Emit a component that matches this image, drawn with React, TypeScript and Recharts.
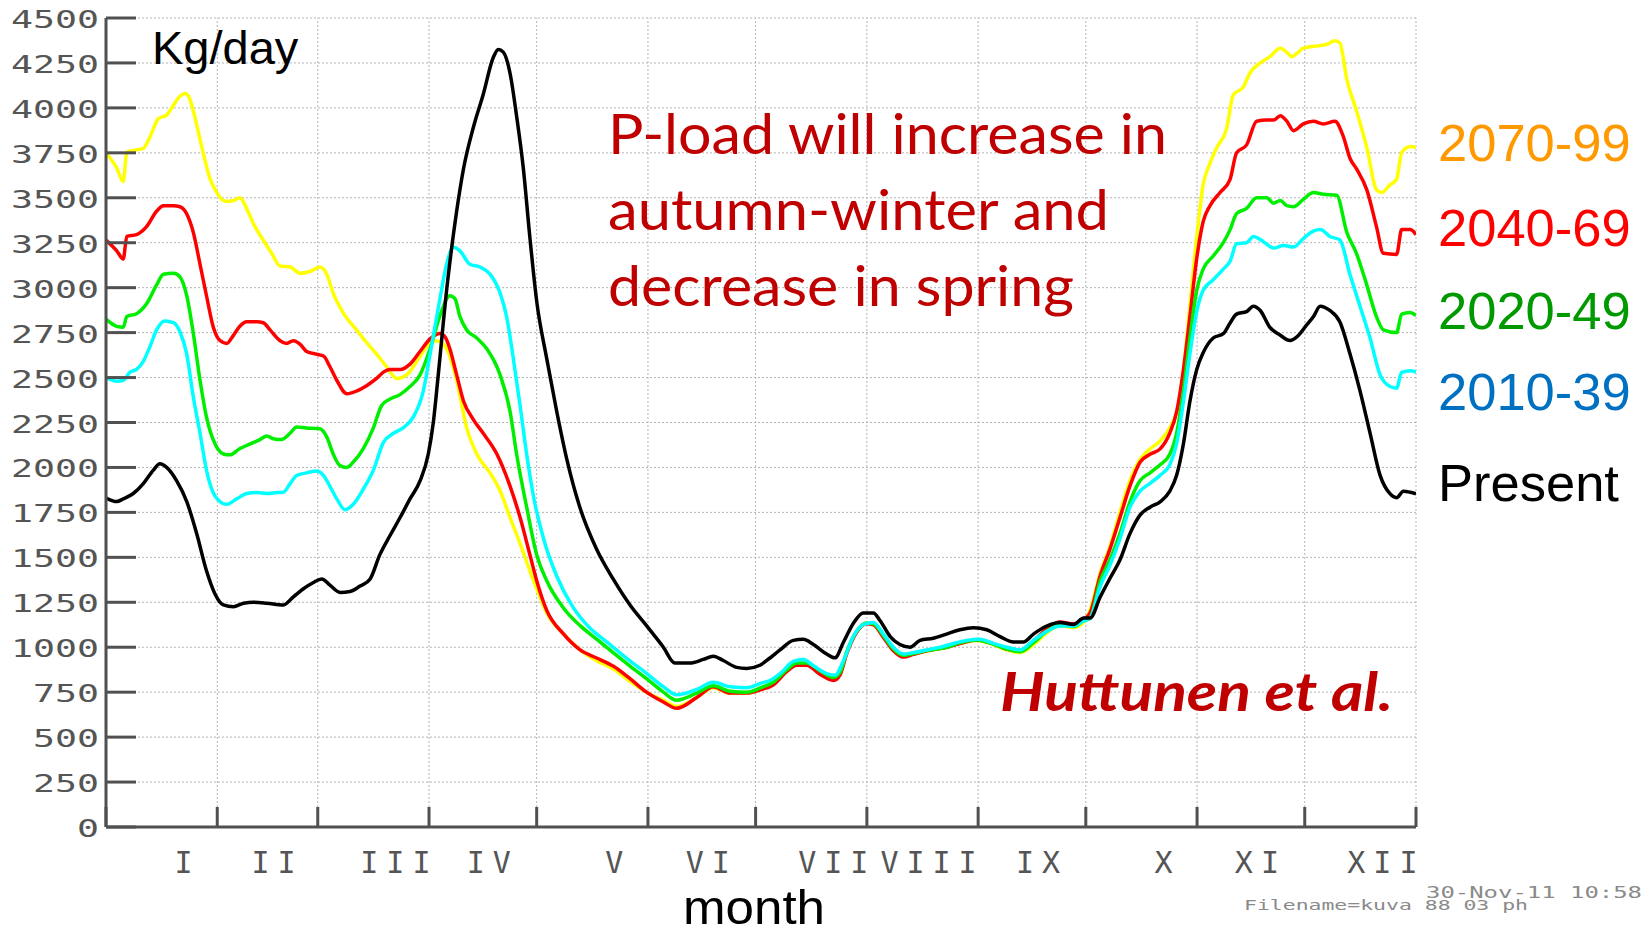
import React from 'react';
import { LineChart, Line, XAxis, YAxis, CartesianGrid, ReferenceLine } from 'recharts';

type Pt = [number, number];

// month boundaries (day of year) and Roman month labels
const monthStarts = [0, 31, 59, 90, 120, 151, 181, 212, 243, 273, 304, 334, 365];
const monthLabels = ['I', 'II', 'III', 'IV', 'V', 'VI', 'VII', 'VIII', 'IX', 'X', 'XI', 'XII'];
const yTicks = [0, 250, 500, 750, 1000, 1250, 1500, 1750, 2000, 2250, 2500, 2750, 3000, 3250, 3500, 3750, 4000, 4250, 4500];

// [day of year, P-load kg/day]
const load2070: Pt[] = [
  [0, 3750], [3, 3665], [4.8, 3590], [5.8, 3755], [8, 3765], [10.4, 3775], [12.3, 3840], [14.6, 3940], [16.9, 3960], [18.3, 4000],
  [20.6, 4065], [22, 4080], [23, 4065], [24.3, 3985], [26.2, 3825], [29, 3605], [30.4, 3545], [33.2, 3480], [35.5, 3485], [37.3, 3500],
  [39.2, 3440], [41.1, 3355], [43.8, 3265], [46.2, 3190], [48.5, 3120], [51.3, 3115], [54.1, 3080], [56.8, 3090], [59.6, 3115], [61.5, 3075],
  [63.3, 2970], [66.1, 2860], [69.8, 2765], [72.6, 2695], [75.4, 2630], [78.2, 2560], [81, 2495], [83.8, 2515], [86.6, 2590], [88.9, 2660],
  [91.2, 2705], [93.1, 2700], [94.9, 2660], [97.7, 2485], [100.5, 2220], [103.3, 2075], [107, 1970], [109.8, 1870], [112.6, 1720], [115.4, 1575],
  [118.1, 1425], [120, 1325], [122.8, 1190], [127.4, 1075], [132.1, 985], [136.7, 925], [141.3, 880], [146, 810], [150.6, 750], [155.3, 705],
  [159, 670], [164.6, 720], [169.2, 775], [173.9, 745], [178.5, 745], [182.5, 765], [185.9, 795], [189.7, 868], [192.4, 903], [195.2, 903],
  [198.9, 853], [202.7, 823], [204.5, 853], [206.4, 970], [209.2, 1088], [211.9, 1132], [213.8, 1126], [216.6, 1059], [219.4, 985], [222.1, 950],
  [224.9, 962], [228.7, 979], [234.2, 1000], [237.9, 1021], [242.6, 1038], [247.2, 1015], [250.9, 985], [254.7, 970], [258.4, 1015], [262.1, 1080],
  [265.8, 1120], [269.6, 1110], [272.4, 1140], [274.2, 1206], [277, 1412], [279.7, 1559], [282.5, 1750], [285.3, 1926], [288.1, 2044], [290.9, 2103],
  [293.7, 2147], [296.4, 2220], [298.3, 2309], [300.2, 2544], [302, 2897], [303.9, 3279], [305.7, 3573], [307.6, 3691], [309.5, 3779], [312.2, 3882],
  [314.1, 4073], [316.9, 4117], [318.8, 4197], [321.6, 4250], [324.3, 4285], [327.2, 4332], [329, 4309], [330.4, 4285], [331.8, 4303], [333.6, 4332],
  [337.3, 4344], [340.1, 4353], [342.4, 4373], [343.8, 4361], [345.7, 4162], [348.4, 3985], [351.3, 3779], [354, 3544], [355.4, 3529], [357.8, 3573],
  [359.6, 3603], [361, 3750], [363.4, 3785], [365, 3780],
];

const load2040: Pt[] = [
  [0, 3265], [3, 3205], [4.8, 3160], [5.8, 3285], [8.5, 3295], [11.3, 3340], [14.1, 3425], [16, 3455], [18.8, 3455], [20.6, 3450],
  [22.5, 3410], [24.3, 3310], [26.2, 3130], [28, 2955], [29.9, 2780], [31.8, 2705], [33.6, 2690], [35.5, 2735], [37.3, 2785], [39.2, 2810],
  [42, 2810], [43.8, 2805], [45.7, 2765], [48.5, 2705], [50.3, 2690], [52.2, 2705], [54.1, 2685], [55.9, 2645], [58.7, 2630], [60.6, 2620],
  [62.4, 2560], [64.3, 2485], [67.1, 2410], [69.8, 2425], [72.6, 2455], [75.4, 2495], [77.3, 2530], [79.1, 2545], [81.9, 2545], [84.7, 2575],
  [87.5, 2645], [90.3, 2715], [93.1, 2745], [94.5, 2725], [95.8, 2660], [97.7, 2515], [99.6, 2370], [102.4, 2265], [105.1, 2190], [108.9, 2075],
  [112.6, 1895], [115.4, 1720], [118.1, 1515], [120, 1370], [122.8, 1205], [127.4, 1075], [132.1, 985], [136.7, 940], [141.3, 895], [146, 825],
  [150.6, 750], [155.3, 695], [159, 660], [164.6, 720], [169.2, 780], [173.9, 745], [178.5, 745], [182.5, 765], [185.9, 790], [189.7, 865],
  [192.4, 900], [195.2, 900], [198.9, 850], [202.7, 815], [204.5, 845], [206.4, 965], [209.2, 1085], [211.9, 1130], [213.8, 1125], [216.6, 1055],
  [219.4, 980], [222.1, 945], [224.9, 960], [228.7, 980], [234.2, 1000], [237.9, 1020], [242.6, 1040], [247.2, 1020], [250.9, 990], [254.7, 980],
  [258.4, 1035], [262.1, 1100], [265.8, 1140], [269.6, 1130], [272.4, 1155], [274.2, 1191], [277, 1397], [279.7, 1544], [282.5, 1720], [285.3, 1897],
  [288.1, 2029], [290.9, 2073], [293.7, 2103], [296.4, 2191], [298.3, 2309], [300.2, 2544], [302, 2838], [303.9, 3162], [305.7, 3367], [307.6, 3456],
  [310.4, 3529], [313.2, 3603], [315, 3750], [317.8, 3794], [320.6, 3926], [323.4, 3932], [325.3, 3932], [327.2, 3956], [329, 3926], [330.9, 3873],
  [333.6, 3911], [336.4, 3926], [339.2, 3911], [342.4, 3926], [344.8, 3838], [346.6, 3720], [348.4, 3662], [351.3, 3544], [354, 3338], [355.9, 3191],
  [359.6, 3185], [361, 3323], [363.4, 3323], [365, 3295],
];

const load2020: Pt[] = [
  [0, 2825], [3, 2785], [4.8, 2780], [5.8, 2840], [8.5, 2855], [11.3, 2910], [14.1, 3015], [16, 3075], [18.8, 3080], [20.6, 3060],
  [22.5, 2955], [24.3, 2750], [26.2, 2485], [28, 2280], [30.4, 2130], [32.7, 2075], [34.5, 2070], [37.3, 2105], [40.1, 2130], [42.9, 2155],
  [44.8, 2175], [46.6, 2160], [48.9, 2155], [51.3, 2190], [53.1, 2225], [55.9, 2220], [59.6, 2215], [61.5, 2170], [63.3, 2075], [65.2, 2010],
  [67.1, 2000], [68.9, 2030], [71.7, 2105], [74.5, 2220], [76.8, 2345], [79.1, 2380], [81.9, 2405], [84.7, 2450], [87.5, 2515], [90.3, 2660],
  [93, 2840], [95.8, 2955], [97.2, 2940], [98.6, 2840], [100.5, 2765], [103.3, 2720], [106.1, 2660], [109.8, 2515], [112.6, 2310], [114.4, 2075],
  [117.2, 1780], [120, 1515], [122.8, 1370], [127.4, 1220], [132.1, 1120], [136.7, 1045], [141.3, 970], [146, 895], [150.6, 825], [155.3, 750],
  [159, 705], [164.6, 745], [169.2, 785], [173.9, 755], [178.5, 750], [182.5, 775], [185.9, 805], [189.7, 875], [192.4, 912], [195.2, 912],
  [198.9, 870], [202.7, 832], [204.5, 860], [206.4, 975], [209.2, 1090], [211.9, 1135], [213.8, 1130], [216.6, 1065], [219.4, 990], [222.1, 955],
  [224.9, 965], [228.7, 982], [234.2, 1000], [237.9, 1025], [242.6, 1040], [247.2, 1018], [250.9, 990], [254.7, 975], [258.4, 1025], [262.1, 1088],
  [265.8, 1125], [269.6, 1115], [272.4, 1147], [274.2, 1162], [277, 1368], [279.7, 1485], [282.5, 1632], [285.3, 1809], [288.1, 1926], [290.9, 1970],
  [293.7, 2015], [296.4, 2073], [298.3, 2191], [300.2, 2426], [302, 2720], [303.9, 2985], [305.7, 3103], [308.5, 3176], [311.3, 3250], [313.2, 3323],
  [315, 3412], [317.8, 3441], [320.6, 3500], [323.4, 3500], [325.3, 3470], [327.2, 3485], [329, 3456], [330.9, 3450], [333.6, 3491], [336.4, 3529],
  [339.2, 3520], [342.9, 3514], [345.7, 3309], [348.4, 3191], [351.3, 3014], [354, 2838], [355.9, 2765], [359.6, 2750], [361, 2853], [363.4, 2862],
  [365, 2845],
];

const load2010: Pt[] = [
  [0, 2500], [3, 2480], [4.8, 2485], [6.7, 2530], [8.5, 2545], [10.4, 2590], [12.3, 2675], [14.1, 2765], [16.4, 2815], [18.8, 2805],
  [20.6, 2755], [22.5, 2630], [24.3, 2395], [26.2, 2190], [28, 1985], [30.4, 1840], [33.6, 1795], [36.4, 1825], [39.2, 1855], [42, 1860],
  [44.8, 1855], [47.6, 1860], [49.4, 1862], [51.3, 1910], [53.1, 1955], [55.9, 1970], [58.7, 1980], [60.6, 1955], [62.4, 1895], [64.3, 1825],
  [66.6, 1765], [68.9, 1795], [71.7, 1880], [74.5, 1985], [77.3, 2140], [80.1, 2190], [82.8, 2220], [85.6, 2280], [88.4, 2425], [90.3, 2630],
  [93.1, 2945], [94.9, 3130], [96.8, 3225], [98.6, 3205], [101.4, 3130], [104.2, 3115], [107, 3075], [109.8, 2970], [111.6, 2840], [113.5, 2605],
  [115.4, 2340], [117.2, 2075], [119.1, 1840], [121.9, 1605], [125.6, 1395], [130.2, 1220], [134.9, 1105], [139.5, 1030], [145.9, 925], [150.6, 855],
  [155.3, 780], [159, 735], [164.6, 765], [169.2, 805], [173.9, 780], [178.5, 775], [182.5, 800], [185, 815], [187.8, 853], [191.5, 921],
  [194.3, 932], [197.1, 897], [200.8, 853], [203.1, 844], [205.5, 926], [208.2, 1059], [211, 1126], [213.8, 1138], [216.6, 1073], [219.4, 1000],
  [222.1, 962], [224.9, 970], [228.7, 985], [232.4, 1000], [236.1, 1021], [239.8, 1038], [243.5, 1044], [247.2, 1021], [250.9, 1000], [254.7, 985],
  [258.4, 1038], [262.1, 1088], [265.8, 1118], [269.6, 1118], [272.4, 1147], [274.2, 1162], [277, 1338], [279.7, 1456], [282.5, 1603], [285.3, 1779],
  [288.1, 1868], [290.9, 1912], [293.7, 1956], [296.4, 2015], [298.3, 2132], [300.2, 2367], [302, 2632], [303.9, 2867], [305.7, 2985], [308.5, 3044],
  [311.3, 3103], [313.2, 3147], [315, 3244], [317.8, 3250], [319.7, 3285], [322.5, 3256], [325.3, 3220], [328.1, 3235], [330.9, 3226], [333.6, 3273],
  [336.4, 3314], [338.3, 3323], [341, 3285], [343.8, 3265], [346.6, 3073], [349.4, 2897], [352.2, 2720], [355, 2515], [357.8, 2450], [359.6, 2441],
  [361, 2529], [363.4, 2538], [365, 2530],
];

const loadPresent: Pt[] = [
  [0, 1830], [3, 1810], [4.8, 1825], [7.6, 1855], [10.4, 1910], [13.2, 1985], [15, 2020], [16.9, 2000], [19.7, 1925], [22.5, 1810],
  [25.3, 1630], [28, 1425], [30.4, 1295], [32.7, 1235], [35.5, 1225], [38.3, 1245], [41.1, 1250], [44.8, 1245], [49.4, 1235], [52.2, 1280],
  [55, 1325], [57.8, 1360], [60.1, 1380], [62.4, 1345], [65.2, 1305], [68, 1310], [70.8, 1340], [73.6, 1380], [76.3, 1515], [79.1, 1620],
  [81.9, 1720], [84.7, 1825], [87.5, 1925], [89.8, 2075], [91.2, 2250], [92.6, 2520], [94.9, 2985], [97.7, 3425], [99.6, 3660], [102.4, 3895],
  [105.1, 4075], [107.9, 4280], [109.3, 4325], [110.7, 4310], [112.6, 4190], [114.4, 3955], [116.3, 3660], [118.1, 3280], [120, 2925], [122.8, 2605],
  [125.6, 2310], [128.4, 2045], [132, 1780], [136.7, 1545], [141.3, 1380], [146, 1235], [150.6, 1120], [155.3, 1000], [158.5, 912], [162.7, 912],
  [166.4, 932], [169.2, 950], [172, 926], [175.7, 888], [178.5, 882], [182.2, 900], [185, 940], [187.8, 985], [191.5, 1038], [194.3, 1044],
  [197.1, 1015], [200.8, 962], [203.1, 941], [205.5, 1029], [208.2, 1132], [211, 1191], [213.8, 1191], [215.7, 1147], [218.5, 1059], [221.2, 1015],
  [224, 1000], [226.8, 1038], [230.5, 1050], [234.2, 1073], [237.9, 1097], [241.7, 1109], [245.4, 1097], [249.1, 1059], [252.8, 1029], [255.6, 1029],
  [258.4, 1073], [262.1, 1118], [265.8, 1138], [269.6, 1126], [272.4, 1162], [274.2, 1162], [277, 1279], [279.7, 1382], [282.5, 1485], [285.3, 1632],
  [288.1, 1735], [290.9, 1779], [293.7, 1809], [296.4, 1868], [298.3, 1956], [300.2, 2132], [302, 2367], [303.9, 2544], [305.7, 2638], [308.5, 2720],
  [311.3, 2744], [313.2, 2803], [315, 2853], [317.8, 2867], [319.7, 2897], [321.6, 2873], [324.3, 2779], [327.2, 2735], [329.9, 2706], [331.8, 2726],
  [334.6, 2794], [336.4, 2838], [338.3, 2897], [341, 2873], [343.8, 2809], [346.6, 2632], [349.4, 2426], [352.2, 2191], [355, 1956], [357.8, 1853],
  [359.6, 1832], [361.5, 1868], [363.4, 1862], [365, 1853],
];

const seriesNames = ['2070-99', '2040-69', '2020-49', '2010-39', 'Present'];
const lineColors = ['#ffff00', '#ff0000', '#00ee00', '#00ffff', '#000000'];
const legendColors = ['#ff9900', '#ff0000', '#009900', '#0070c0', '#000000'];
const seriesPoints = [load2070, load2040, load2020, load2010, loadPresent];

const AXIS = '#505050';
const LABEL = '#555555';
const MONO = '"DejaVu Sans Mono", monospace';
const SANS = '"Liberation Sans", Arial, sans-serif';
const X_LS = 8;

const monthMids = monthLabels.map((_, i) => (monthStarts[i] + monthStarts[i + 1]) / 2);
const xTicks = [...monthStarts, ...monthMids].sort((a, b) => a - b);

const YTick = (p: any) => {
  const s = String(p.payload.value);
  return (
    <g>
      <line x1={p.x} x2={p.x + 30} y1={p.y} y2={p.y} stroke={AXIS} strokeWidth={3} />
      <text x={p.x - 7} y={p.y + 10} textAnchor="end" fontFamily={MONO} fontSize={24} fill={LABEL}
        textLength={22 * s.length} lengthAdjust="spacingAndGlyphs">{s}</text>
    </g>
  );
};

const XTick = (p: any) => {
  const v = p.payload.value;
  if (monthStarts.indexOf(v) >= 0) {
    return <line x1={p.x} x2={p.x} y1={p.y} y2={p.y - 20} stroke={AXIS} strokeWidth={3} />;
  }
  const label = monthLabels[monthMids.indexOf(v)];
  const shift = label.length % 2 ? 22 : 6;
  return (
    <text x={p.x + shift + X_LS / 2} y={p.y + 46} textAnchor="middle" fontFamily={MONO} fontSize={30}
      letterSpacing={X_LS} fill={LABEL}>{label}</text>
  );
};

const legendBaselines = [161, 246, 329, 410, 501];
const noteLines = ['P-load will increase in', 'autumn-winter and', 'decrease in spring'];
const noteWidths = [559, 501, 466];
const noteBaselines = [154, 230, 306];

export default function App() {
  return (
    <div style={{ position: 'absolute', left: 0, top: 0, width: 1648, height: 935, background: '#fff', overflow: 'hidden' }}>
      <LineChart width={1648} height={935} margin={{ top: 18, right: 232, bottom: 0, left: 0 }}>
        <CartesianGrid vertical={false} stroke="#b4b4b4" strokeDasharray="2 2" />
        {monthStarts.slice(1).map((d) => (
          <ReferenceLine key={d} x={d} stroke="#b4b4b4" strokeDasharray="2 2" />
        ))}
        <XAxis type="number" dataKey="day" domain={[0, 365]} ticks={xTicks} interval={0} height={108}
          tickSize={0} tickMargin={0} tickLine={false} tick={<XTick />}
          axisLine={{ stroke: AXIS, strokeWidth: 3 }} allowDataOverflow />
        <YAxis type="number" domain={[0, 4500]} ticks={yTicks} interval={0} width={106}
          tickSize={0} tickMargin={0} tickLine={false} tick={<YTick />}
          axisLine={{ stroke: AXIS, strokeWidth: 3 }} allowDataOverflow />
        {seriesPoints.map((pts, i) => (
          <Line key={seriesNames[i]} name={seriesNames[i]} data={pts.map(([day, v]) => ({ day, v }))}
            dataKey="v" type="monotone" stroke={lineColors[i]} strokeWidth={3.5} dot={false}
            activeDot={false} isAnimationActive={false} />
        ))}
      </LineChart>
      <svg width={1648} height={935} style={{ position: 'absolute', left: 0, top: 0, pointerEvents: 'none' }}>
        <text x={152} y={64} fontFamily={SANS} fontSize={47} fill="#000">Kg/day</text>
        {noteLines.map((t, i) => (
          <text key={t} x={608} y={noteBaselines[i]} fontFamily="Lato, sans-serif" fontSize={56} fill="#c00000"
            textLength={noteWidths[i]} lengthAdjust="spacingAndGlyphs">{t}</text>
        ))}
        <text x={1000} y={711} fontFamily="Lato, sans-serif" fontWeight="bold" fontStyle="italic" fontSize={53}
          fill="#c00000" textLength={393} lengthAdjust="spacingAndGlyphs">Huttunen et al.</text>
        {seriesNames.map((n, i) => (
          <text key={n} x={1438} y={legendBaselines[i]} fontFamily={SANS} fontSize={52.5} fill={legendColors[i]}>{n}</text>
        ))}
        <text x={683} y={924} fontFamily={SANS} fontSize={48} fill="#000" textLength={142}
          lengthAdjust="spacingAndGlyphs">month</text>
        <text x={1426} y={898} fontFamily={MONO} fontSize={16} fill="#8a8a8a" textLength={216}
          lengthAdjust="spacingAndGlyphs">30-Nov-11 10:58</text>
        <text x={1244} y={910} fontFamily={MONO} fontSize={14} fill="#8a8a8a" textLength={284}
          lengthAdjust="spacingAndGlyphs">Filename=kuva 88 03 ph</text>
      </svg>
    </div>
  );
}
